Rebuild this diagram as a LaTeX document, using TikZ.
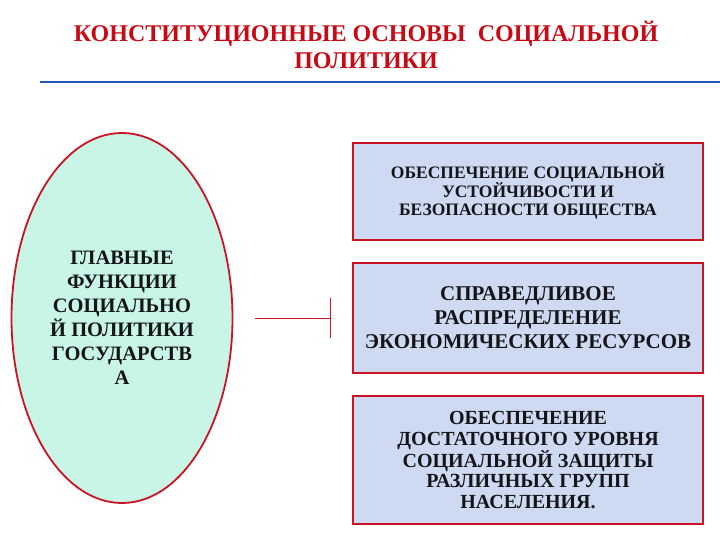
\documentclass[tikz,border=0pt]{standalone}
\usepackage{fontspec}
\setmainfont{Liberation Serif}
\usepackage{tikz}
\usetikzlibrary{shapes.geometric,arrows.meta}

\definecolor{titlered}{RGB}{200,10,20}
\definecolor{framered}{RGB}{200,20,35}
\definecolor{rulerblue}{RGB}{35,85,185}
\definecolor{mint}{RGB}{200,245,230}
\definecolor{lavender}{RGB}{206,218,241}
\definecolor{inkdark}{RGB}{20,20,25}

\tikzset{
	heading/.style={text=titlered, font=\bfseries\fontsize{24}{27}\selectfont, align=center},
	oval/.style={ellipse, draw=framered, line width=1.8pt, fill=mint, text=inkdark,
		minimum width=221pt, minimum height=370pt, inner sep=0pt, align=center},
	infobox/.style={rectangle, draw=framered, line width=1.8pt, fill=lavender, text=inkdark,
		minimum width=350pt, inner sep=0pt, align=center},
}

\begin{document}
\begin{tikzpicture}[x=1pt, y=-1pt]

	% ---- canvas

	\useasboundingbox (0,0) rectangle (720,540);

	% ---- title

	\node[heading] (title) at (366,45)
		{КОНСТИТУЦИОННЫЕ ОСНОВЫ \ СОЦИАЛЬНОЙ\\ПОЛИТИКИ};

	\coordinate (ruleL) at (40,82);
	\coordinate (ruleR) at (720,82);
	\draw[rulerblue, line width=2.2pt] (ruleL) -- (ruleR);

	% ---- main oval

	\node[oval, font=\bfseries\fontsize{20.5}{24}\selectfont] (main) at (122,318)
		{ГЛАВНЫЕ\\ФУНКЦИИ\\СОЦИАЛЬНО\\Й ПОЛИТИКИ\\ГОСУДАРСТВ\\А};

	% ---- boxes

	\node[infobox, minimum height=97pt, font=\bfseries\fontsize{17.5}{18}\selectfont] (box1) at (528,191.5)
		{ОБЕСПЕЧЕНИЕ СОЦИАЛЬНОЙ\\УСТОЙЧИВОСТИ И\\БЕЗОПАСНОСТИ ОБЩЕСТВА};

	\node[infobox, minimum height=110pt, font=\bfseries\fontsize{21}{24}\selectfont] (box2) at (528,318)
		{СПРАВЕДЛИВОЕ\\РАСПРЕДЕЛЕНИЕ\\ЭКОНОМИЧЕСКИХ РЕСУРСОВ};

	\node[infobox, minimum height=128pt, font=\bfseries\fontsize{20}{20.3}\selectfont] (box3) at (528,460)
		{ОБЕСПЕЧЕНИЕ\\ДОСТАТОЧНОГО УРОВНЯ\\СОЦИАЛЬНОЙ ЗАЩИТЫ\\РАЗЛИЧНЫХ ГРУПП\\НАСЕЛЕНИЯ.};

	% ---- connector

	\draw[framered, line width=1pt, -{Bar[width=40pt, line width=1pt]}]
		([xshift=22pt]main.east) -- ([xshift=-21pt]box2.west);

\end{tikzpicture}
\end{document}
